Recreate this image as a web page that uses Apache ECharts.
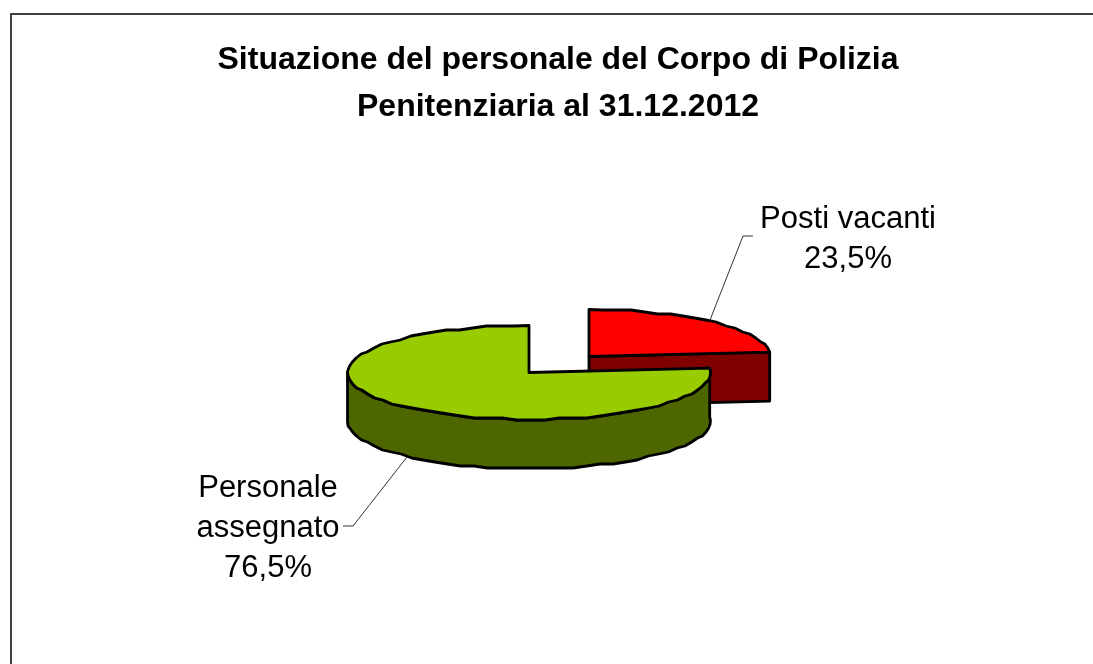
<!DOCTYPE html>
<html><head><meta charset="utf-8">
<style>html,body{margin:0;padding:0;background:#fff}#c{width:1093px;height:664px}</style>
<script src="https://cdn.jsdelivr.net/npm/echarts@6/dist/echarts.min.js"></script>
</head><body><div id="c"></div>
<script>
const categories = ['Posti vacanti', 'Personale\nassegnato'];
const values = [23.5, 76.5];
const topColors = ['#ff0000', '#99cc00'];
const sideColors = ['#800000', '#4d6600'];
const titleText = 'Situazione del personale del Corpo di Polizia\nPenitenziaria al 31.12.2012';

const chart = echarts.init(document.getElementById('c'), null, {renderer: 'canvas'});
const RX = 181.5, RY = 47, DEPTH = 49, STEP = 4.5, SNAP = 2;
const centers = [[589, 356.5], [529, 372.5]];
const labelPos = [[848, 239], [268, 528]];
const leaders = [[[753, 236], [743, 236], [710, 320]], [[343, 526], [353, 526], [407, 457]]];
const total = values.reduce((a, b) => a + b, 0);
const pt = (c, deg, dy) => {
  const r = deg * Math.PI / 180;
  return [c[0] + RX * Math.sin(r), c[1] - RY * Math.cos(r) + (dy || 0)];
};
const arc = (c, a, b, dy) => {
  const out = [];
  const n = Math.max(1, Math.round(Math.abs(b - a) / STEP));
  for (let i = 0; i <= n; i++) {
    const p = pt(c, a + (b - a) * i / n, dy);
    if (i > 0 && i < n) p[1] = Math.round(p[1] / SNAP) * SNAP;
    out.push(p);
  }
  return out;
};
const stroke = {stroke: '#000', lineWidth: 2.8, lineJoin: 'round'};
function renderItem(params, api) {
  const i = params.dataIndex;
  const v = api.value(0);
  const before = values.slice(0, i).reduce((a, b) => a + b, 0);
  const a0 = before / total * 360, a1 = (before + v) / total * 360;
  const c = centers[i];
  const ch = [];
  if (i === 0) {
    const e = pt(c, a1);
    ch.push({type: 'polygon', shape: {points: [c, e, [e[0], e[1] + DEPTH], [c[0], c[1] + DEPTH]]},
      style: Object.assign({fill: sideColors[i]}, stroke)});
  } else {
    const side = arc(c, a0, 270).concat(arc(c, 270, a0, DEPTH));
    ch.push({type: 'polygon', shape: {points: side}, style: Object.assign({fill: sideColors[i]}, stroke)});
  }
  ch.push({type: 'polygon', shape: {points: [c].concat(arc(c, a0, a1))},
    style: Object.assign({fill: topColors[i]}, stroke)});
  ch.push({type: 'polyline', shape: {points: leaders[i]}, style: {stroke: '#333', lineWidth: 1, fill: null}});
  ch.push({type: 'text', style: {
    text: categories[i] + '\n' + v.toFixed(1).replace('.', ',') + '%',
    x: labelPos[i][0], y: labelPos[i][1], align: 'center', verticalAlign: 'middle',
    font: '31px "Liberation Sans"', lineHeight: 40, fill: '#000', textAlign: 'center', textVerticalAlign: 'middle'
  }});
  return {type: 'group', children: ch};
}
chart.setOption({
  animation: false,
  backgroundColor: '#fff',
  title: {
    text: titleText, left: 553, top: 32, textAlign: 'center',
    textStyle: {fontFamily: 'Liberation Sans', fontWeight: 'bold', fontSize: 32, lineHeight: 47, color: '#000'}
  },
  graphic: [
    {type: 'polyline', z: -1, shape: {points: [[11, 664], [11, 14], [1093, 14]]},
     style: {fill: null, stroke: '#404040', lineWidth: 2}}
  ],
  series: [{
    type: 'custom', coordinateSystem: 'none', silent: true, clip: false,
    data: values.map(v => [v]), renderItem, encode: {value: 0}
  }]
});
</script></body></html>
